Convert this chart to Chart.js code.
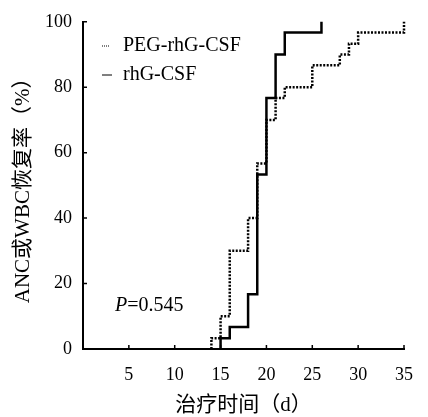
<!DOCTYPE html>
<html>
<head>
<meta charset="utf-8">
<script src="https://cdn.jsdelivr.net/npm/chart.js@4.4.0/dist/chart.umd.min.js"></script>
<style>
html, body { margin: 0; padding: 0; background: #fff; }
#wrap { width: 428px; height: 417px; }
</style>
</head>
<body>
<div id="wrap"><canvas id="chart"></canvas></div>
<script>
// Curvas de recuperación (días, % acumulado)
const pegDays = [14, 14, 15, 16, 18, 19, 20, 21, 22, 25, 28, 29, 30, 35];
const pegRate = [0, 3.3, 10, 30, 40, 56.7, 70, 76.7, 80, 86.7, 90, 93.3, 96.7, 100];
const rhgDays = [15, 15, 16, 18, 19, 20, 21, 22, 26];
const rhgRate = [0, 3.3, 6.7, 16.7, 53.3, 76.7, 90, 96.7, 100];

const seriesNames = ['PEG-rhG-CSF', 'rhG-CSF'];
const xTicks = [5, 10, 15, 20, 25, 30, 35];
const yTicks = [0, 20, 40, 60, 80, 100];
const pLabel = '=0.545';

const serif = "'Liberation Serif', 'Times New Roman', 'Noto Sans CJK SC', serif";

function toPoints(days, rate) {
    return days.map((d, i) => ({ x: d, y: rate[i] }));
}

// Marcas hacia dentro, leyenda y valor P
const extras = {
    id: 'extras',
    afterDraw(chart) {
        const ctx = chart.ctx;
        const xs = chart.scales.x;
        const ys = chart.scales.y;
        const area = chart.chartArea;
        ctx.save();
        ctx.strokeStyle = '#000';
        ctx.lineWidth = 1.5;
        ctx.beginPath();
        yTicks.forEach(v => {
            const py = ys.getPixelForValue(v);
            ctx.moveTo(area.left, py);
            ctx.lineTo(area.left + 4, py);
        });
        xTicks.forEach(v => {
            const px = xs.getPixelForValue(v);
            ctx.moveTo(px, area.bottom);
            ctx.lineTo(px, area.bottom - 4);
        });
        ctx.stroke();

        // leyenda
        ctx.fillStyle = '#000';
        ctx.font = '20px ' + serif;
        ctx.textBaseline = 'middle';
        const lx = area.left + 19;
        const rows = [46, 75];
        ctx.lineWidth = 1;
        ctx.setLineDash([1, 1]);
        ctx.beginPath();
        ctx.moveTo(lx, rows[0]);
        ctx.lineTo(lx + 8, rows[0]);
        ctx.stroke();
        ctx.setLineDash([]);
        ctx.beginPath();
        ctx.moveTo(lx, rows[1]);
        ctx.lineTo(lx + 10, rows[1]);
        ctx.stroke();
        ctx.fillText(seriesNames[0], lx + 21, rows[0]);
        ctx.fillText(seriesNames[1], lx + 21, rows[1]);

        // P valor
        const px = area.left + 32;
        const py = 306;
        ctx.font = 'italic 20px ' + serif;
        ctx.fillText('P', px, py);
        const w = ctx.measureText('P').width;
        ctx.font = '20px ' + serif;
        ctx.fillText(pLabel, px + w, py);
        ctx.restore();
    }
};

const ctx = document.getElementById('chart').getContext('2d');
const chart = new Chart(ctx, {
    type: 'line',
    data: {
        datasets: [{
            label: seriesNames[0],
            data: toPoints(pegDays, pegRate),
            borderColor: '#000',
            borderWidth: 2.5,
            borderDash: [2, 1.5],
            stepped: 'before',
            pointRadius: 0,
            fill: false,
            clip: 5
        }, {
            label: seriesNames[1],
            data: toPoints(rhgDays, rhgRate),
            borderColor: '#000',
            borderWidth: 2.5,
            stepped: 'before',
            pointRadius: 0,
            fill: false,
            clip: 5
        }]
    },
    options: {
        responsive: true,
        maintainAspectRatio: false,
        animation: false,
        layout: { padding: { left: 0, right: 13, top: 16, bottom: 0 } },
        plugins: {
            legend: { display: false },
            tooltip: { enabled: false }
        },
        scales: {
            x: {
                type: 'linear',
                min: 0,
                max: 35,
                afterFit: s => { s.height = 68; },
                afterBuildTicks: s => { s.ticks = xTicks.map(v => ({ value: v })); },
                grid: { display: false, drawTicks: false },
                border: { display: true, color: '#000', width: 2 },
                ticks: {
                    color: '#000',
                    padding: 15,
                    maxRotation: 0,
                    font: { family: serif, size: 18 }
                },
                title: {
                    display: true,
                    text: '治疗时间（d）',
                    color: '#000',
                    padding: { top: 0, bottom: -1 },
                    font: { family: serif, size: 21 }
                }
            },
            y: {
                min: 0,
                max: 100,
                afterFit: s => { s.width = 83; },
                afterBuildTicks: s => { s.ticks = yTicks.map(v => ({ value: v })); },
                grid: { display: false, drawTicks: false },
                border: { display: true, color: '#000', width: 2 },
                ticks: {
                    color: '#000',
                    padding: 11,
                    font: { family: serif, size: 18 }
                },
                title: {
                    display: true,
                    text: 'ANC或WBC恢复率（%）',
                    color: '#000',
                    padding: { top: 11, bottom: 0 },
                    font: { family: serif, size: 21 }
                }
            }
        }
    },
    plugins: [extras]
});
</script>
</body>
</html>
